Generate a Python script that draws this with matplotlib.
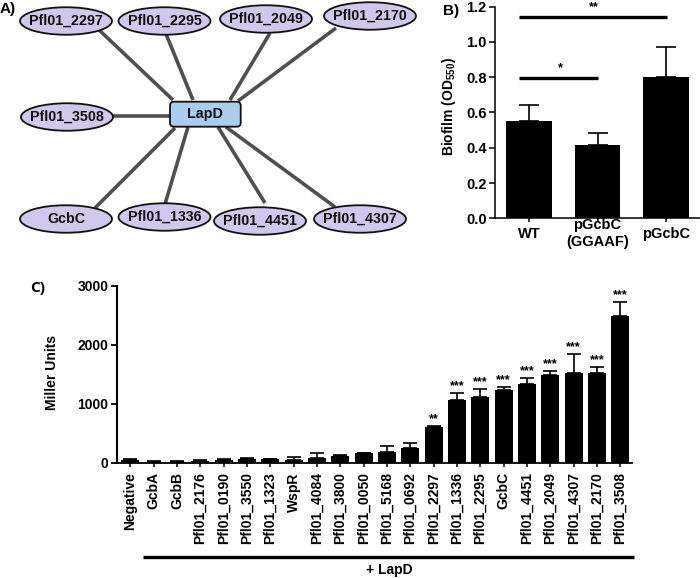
import matplotlib
matplotlib.use("Agg")
import matplotlib.pyplot as plt
import matplotlib.transforms as mtransforms
from matplotlib.patches import Ellipse, FancyBboxPatch

plt.rcParams['font.family'] = ['Liberation Sans', 'DejaVu Sans']
plt.rcParams['font.weight'] = 'bold'
plt.rcParams['mathtext.fontset'] = 'custom'
plt.rcParams['mathtext.rm'] = 'Liberation Sans:bold'
plt.rcParams['mathtext.bf'] = 'Liberation Sans:bold'
plt.rcParams['mathtext.default'] = 'bf'

# ---------------- data ----------------
# Panel A: interaction network
hub_name = "LapD"
partner_names = ["Pfl01_2297", "Pfl01_2295", "Pfl01_2049", "Pfl01_2170", "Pfl01_3508",
                 "GcbC", "Pfl01_1336", "Pfl01_4451", "Pfl01_4307"]

# Panel B: biofilm
b_labels = ["WT", "pGcbC\n(GGAAF)", "pGcbC"]
b_values = [0.55, 0.414, 0.80]
b_errors = [0.092, 0.068, 0.171]
b_sig_pairs = [(0, 1), (0, 2)]
b_sig_labels = ["*", "**"]

# Panel C: Miller units
c_labels = ["Negative", "GcbA", "GcbB", "Pfl01_2176", "Pfl01_0190", "Pfl01_3550",
            "Pfl01_1323", "WspR", "Pfl01_4084", "Pfl01_3800", "Pfl01_0050", "Pfl01_5168",
            "Pfl01_0692", "Pfl01_2297", "Pfl01_1336", "Pfl01_2295", "GcbC", "Pfl01_4451",
            "Pfl01_2049", "Pfl01_4307", "Pfl01_2170", "Pfl01_3508"]
c_values = [45, 17, 17, 34, 51, 56, 56, 51, 73, 118, 159, 181, 255, 605, 1063, 1113,
            1238, 1328, 1486, 1515, 1515, 2492]
c_errors = [20, 5, 5, 10, 17, 17, 10, 39, 85, 17, 10, 107, 74, 20, 124, 130, 50, 102,
            68, 322, 101, 237]
c_stars = [""] * 13 + ["**"] + ["***"] * 8
c_yticks = [0, 1000, 2000, 3000]

# ---------------- layout (pixel space of panel A) ----------------
node_layout = {
    "Pfl01_2297": ((66, 21), (97, 28), (173, 100)),
    "Pfl01_2295": ((164.5, 21), (166, 34), (193, 100)),
    "Pfl01_2049": ((266, 19), (270, 33), (230, 100)),
    "Pfl01_2170": ((370, 16), (336, 28), (238, 101)),
    "Pfl01_3508": ((67, 117), (113, 116), (170, 116)),
    "GcbC": ((66, 219), (95, 208), (175, 128)),
    "Pfl01_1336": ((164.5, 217), (165, 204), (188, 127)),
    "Pfl01_4451": ((260, 221), (265, 203), (218, 127)),
    "Pfl01_4307": ((360, 219), (335, 207), (226, 127)),
}
hub_box = (170, 101.7, 70.7, 25)

fig = plt.figure(figsize=(7.0, 5.78), dpi=100)

# ---------------- Panel A ----------------
axA = fig.add_axes([0, 1 - 240 / 578, 430 / 700, 240 / 578])
axA.set_xlim(0, 430)
axA.set_ylim(240, 0)
axA.axis('off')
for name in partner_names:
    (cx, cy), p_node, p_hub = node_layout[name]
    axA.plot([p_node[0], p_hub[0]], [p_node[1], p_hub[1]], color='#4f4f4f', lw=2.6,
             solid_capstyle='butt', zorder=1)
    axA.add_patch(Ellipse((cx, cy), 92, 27.5, facecolor='#cfc7ec', edgecolor='#111111',
                          lw=1.3, zorder=2))
    axA.text(cx, cy, name, ha='center', va='center', fontsize=10.3, fontweight='bold',
             color='#111111', zorder=3)
hx, hy, hw, hh = hub_box
axA.add_patch(FancyBboxPatch((hx, hy), hw, hh, boxstyle="round,pad=0,rounding_size=4",
                             facecolor='#a9cdec', edgecolor='#111111', lw=1.3, zorder=2))
axA.text(hx + hw / 2, hy + hh / 2, hub_name, ha='center', va='center', fontsize=10.3,
         fontweight='bold', color='#111111', zorder=3)

fig.text(0 / 700, 1 - 9 / 578, "A)", fontsize=11, fontweight='bold', va='center', ha='left')
fig.text(443 / 700, 1 - 11 / 578, "B)", fontsize=11, fontweight='bold', va='center', ha='left')
fig.text(30 / 700, 1 - 288 / 578, "C)", fontsize=11, fontweight='bold', va='center', ha='left',
         family=['Open Sans', 'DejaVu Sans'])

# ---------------- Panel B ----------------
axB = fig.add_axes([495 / 700, 1 - 218.3 / 578, 205 / 700, 211.7 / 578])
xb = list(range(len(b_labels)))
axB.bar(xb, b_values, width=0.67, color='black', zorder=2)
axB.errorbar(xb, b_values, yerr=[[0] * len(b_errors), b_errors], fmt='none', ecolor='black',
             elinewidth=1.2, capsize=7, capthick=1.2, zorder=1)
axB.set_xlim(-0.5, 2.5)
axB.set_ylim(0, 1.2)
axB.set_yticks([0.0, 0.2, 0.4, 0.6, 0.8, 1.0, 1.2])
axB.set_yticklabels([f"{v:.1f}" for v in [0.0, 0.2, 0.4, 0.6, 0.8, 1.0, 1.2]], fontsize=10.5,
                    fontweight='bold')
axB.set_xticks(xb)
axB.set_xticklabels(b_labels, fontsize=10.5, fontweight='bold')
for lab in axB.get_xticklabels():
    lab.set_va('center')
axB.tick_params(axis='x', length=3, width=1.1, pad=8)
axB.tick_params(axis='y', length=4, width=1.1, pad=2)
for s in ['top', 'right']:
    axB.spines[s].set_visible(False)
for s in ['left', 'bottom']:
    axB.spines[s].set_linewidth(1.1)
axB.set_ylabel(r"Biofilm (OD$_{550}$)", fontsize=10, fontweight='bold')
axB.yaxis.set_label_coords(-0.18, 0.53)
sig_y = [0.797, 1.143]
for (i, j), lab, yy in zip(b_sig_pairs, b_sig_labels, sig_y):
    axB.plot([i - 0.15, j + 0.01], [yy, yy], color='black', lw=2.4, clip_on=False,
             solid_capstyle='butt')
    axB.text((i + j) / 2 - 0.05, yy + 0.02, lab, ha='center', va='bottom', fontsize=9,
             fontweight='bold')

# ---------------- Panel C ----------------
axC = fig.add_axes([116.7 / 700, 1 - 462.7 / 578, 515.3 / 700, 177 / 578])
xc = list(range(len(c_labels)))
axC.bar(xc, c_values, width=0.77, color='black', zorder=2)
axC.errorbar(xc, c_values, yerr=[[0] * len(c_errors), c_errors], fmt='none', ecolor='black',
             elinewidth=1.2, capsize=5, capthick=1.2, zorder=1)
for x, v, e, st in zip(xc, c_values, c_errors, c_stars):
    if st:
        axC.annotate(st, (x, v + e), xytext=(0, 0.5), textcoords='offset points',
                     ha='center', va='bottom', fontsize=9, fontweight='bold')
axC.set_xlim(-0.58, 21.5)
axC.set_ylim(0, 3000)
axC.set_yticks(c_yticks)
axC.set_yticklabels([str(v) for v in c_yticks], fontsize=10, fontweight='bold')
axC.set_xticks(xc)
axC.set_xticklabels(c_labels, rotation=90, fontsize=10, fontweight='bold')
axC.tick_params(axis='x', length=3, width=1.1, pad=4)
axC.tick_params(axis='y', length=4, width=1.3, pad=2)
for s in ['top', 'right']:
    axC.spines[s].set_visible(False)
axC.spines['left'].set_linewidth(1.5)
axC.spines['bottom'].set_linewidth(1.3)
axC.set_ylabel("Miller Units", fontsize=10, fontweight='bold')
axC.yaxis.set_label_coords(-0.112, 0.51)
trans = mtransforms.blended_transform_factory(axC.transData, axC.transAxes)
axC.plot([0.54, 21.6], [-0.531, -0.531], color='black', lw=2.4, transform=trans,
         clip_on=False, solid_capstyle='butt')
axC.text(11.1, -0.607, "+ LapD", transform=trans, ha='center', va='center', fontsize=10,
         fontweight='bold')

fig.savefig("out.png", dpi=100)
